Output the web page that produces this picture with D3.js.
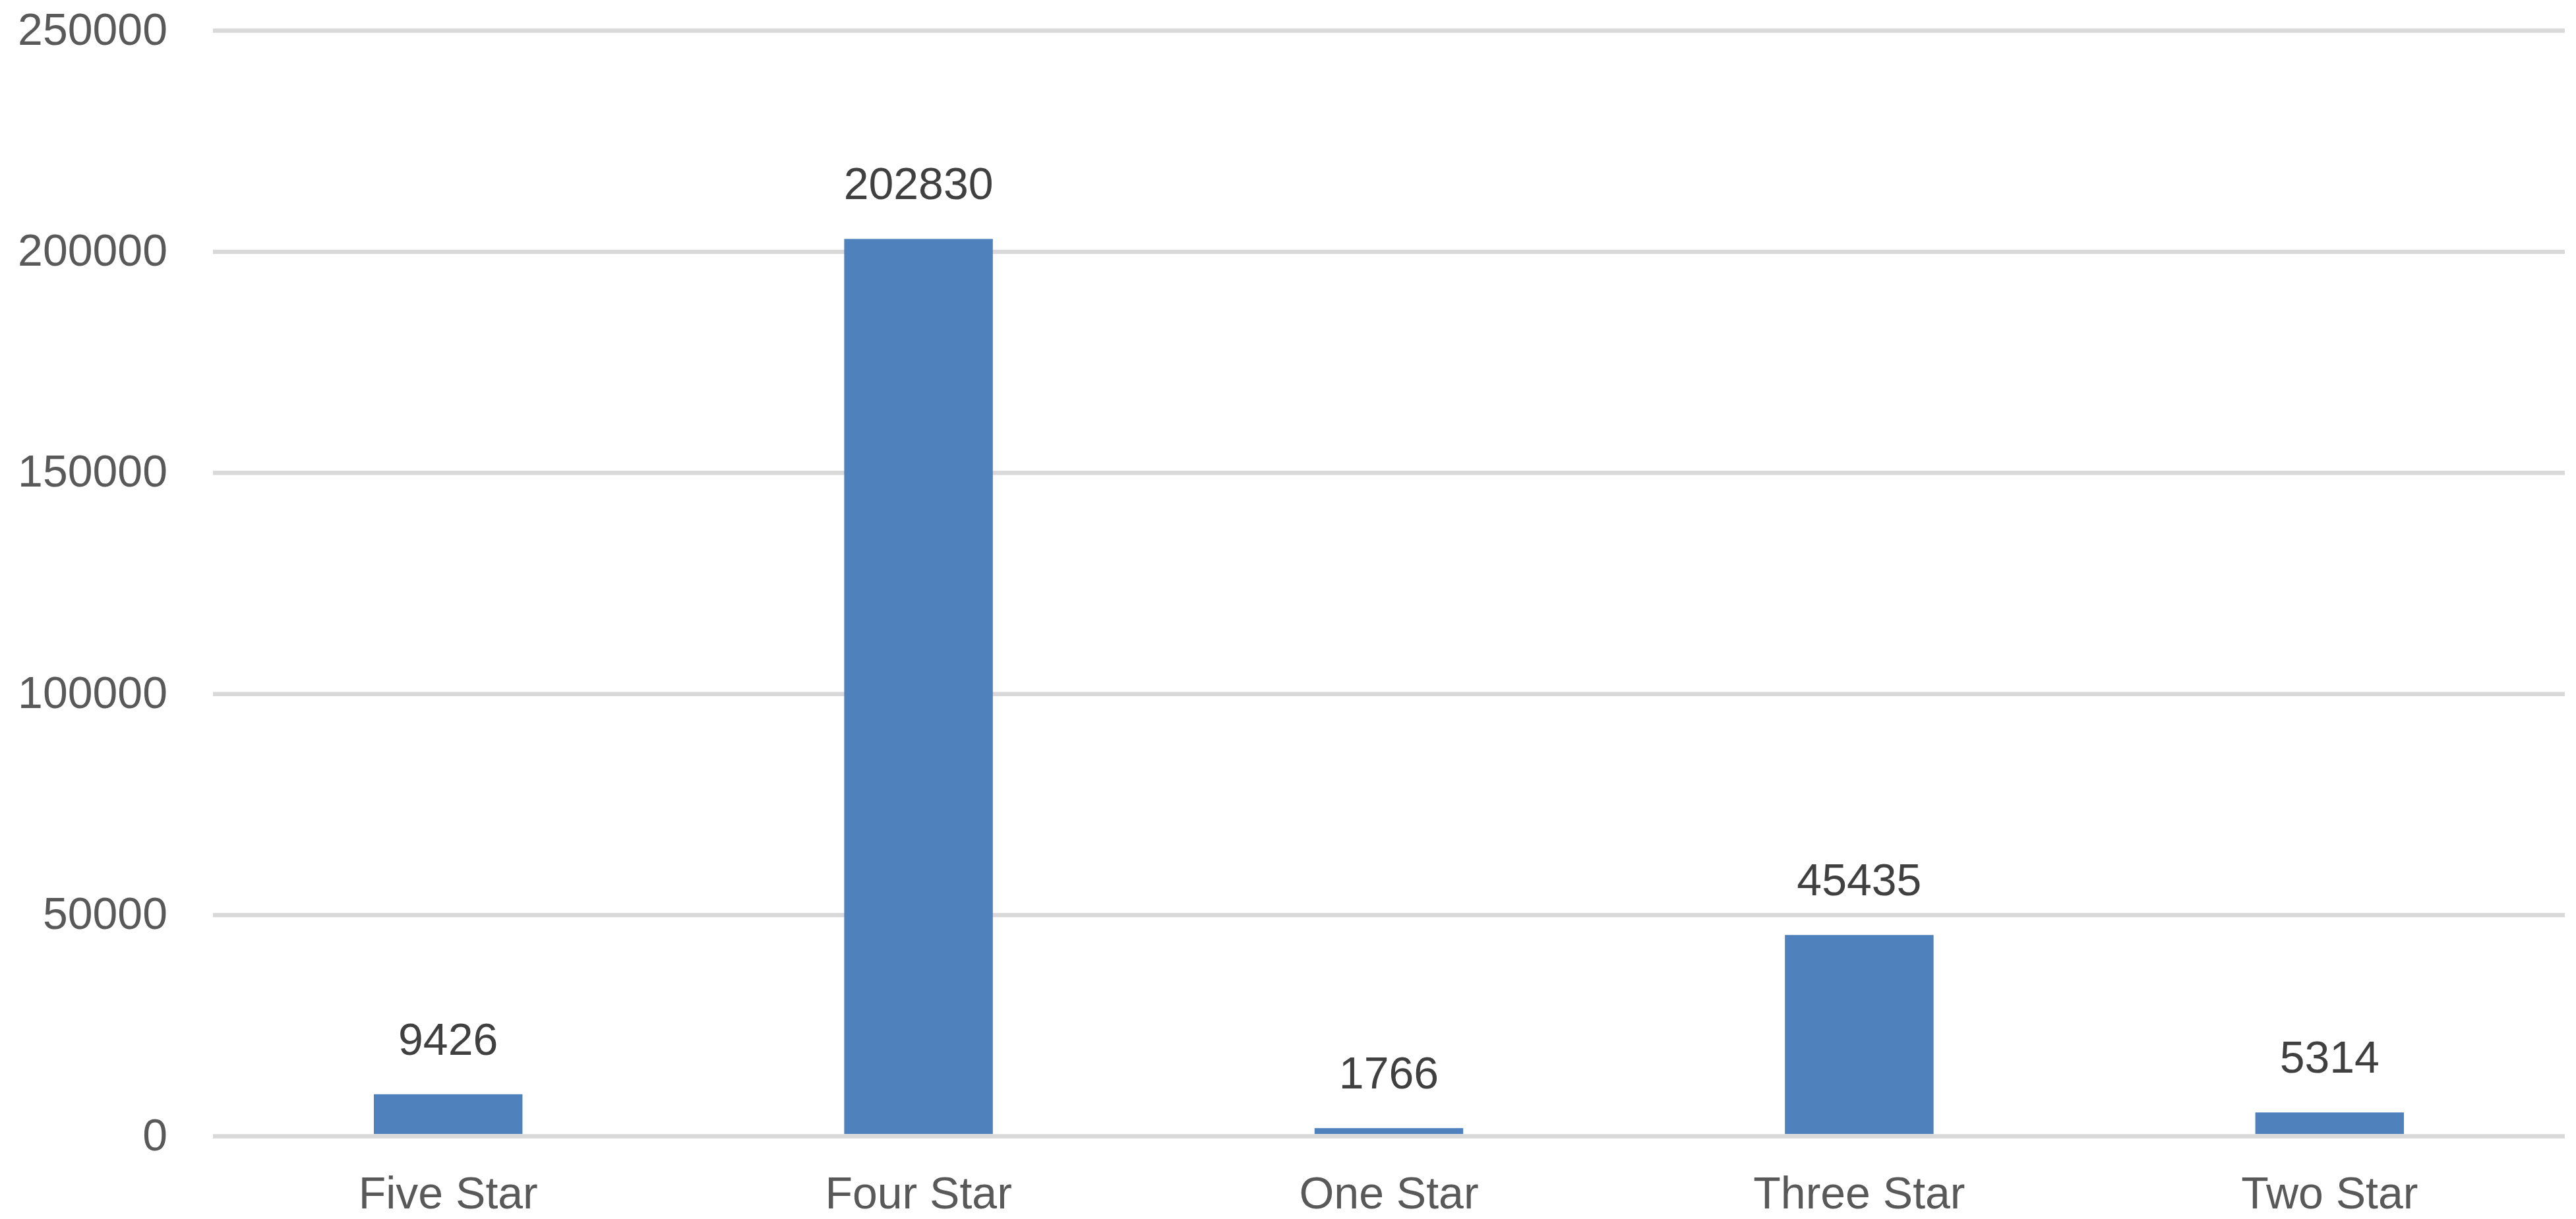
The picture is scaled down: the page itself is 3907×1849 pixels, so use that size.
<!DOCTYPE html>
<html>
<head>
<meta charset="utf-8">
<script src="https://cdn.jsdelivr.net/npm/d3@7/dist/d3.min.js"></script>
<style>
  html, body { margin: 0; padding: 0; background: #ffffff; }
  svg { display: block; }
  text { font-family: "Liberation Sans", Arial, sans-serif; }
</style>
</head>
<body>
<script>
const categories = ["Five Star", "Four Star", "One Star", "Three Star", "Two Star"];
const counts = [9426, 202830, 1766, 45435, 5314];
const yTicks = [0, 50000, 100000, 150000, 200000, 250000];

const W = 3907, H = 1849;
const plotLeft = 323, plotRight = 3890, plotTop = 46, plotBottom = 1723;

const svg = d3.select("body").append("svg")
  .attr("width", W).attr("height", H)
  .attr("viewBox", `0 0 ${W} ${H}`);

svg.append("rect").attr("width", W).attr("height", H).attr("fill", "#ffffff");

const x = d3.scaleBand()
  .domain(categories)
  .range([plotLeft, plotRight])
  .paddingInner(0.684)
  .paddingOuter(0.342);

const y = d3.scaleLinear()
  .domain([0, 250000])
  .range([plotBottom, plotTop]);

// Y axis with gridlines
const yAxis = svg.append("g")
  .attr("transform", `translate(${plotLeft},0)`)
  .call(d3.axisLeft(y).tickValues(yTicks).tickFormat(d3.format("d"))
    .tickSize(-(plotRight - plotLeft)).tickPadding(69));
yAxis.select(".domain").remove();
yAxis.selectAll(".tick line")
  .attr("stroke", "#d9d9d9")
  .attr("stroke-width", 6.5);
yAxis.selectAll(".tick text")
  .attr("fill", "#595959")
  .attr("font-size", 68)
  .attr("dy", null)
  .attr("y", 21)
  .style("font-family", '"Liberation Sans", Arial, sans-serif');

// Bars
svg.append("g").selectAll("rect")
  .data(categories)
  .join("rect")
  .attr("x", d => x(d))
  .attr("width", x.bandwidth())
  .attr("y", (d, i) => y(counts[i]))
  .attr("height", (d, i) => y(0) - y(counts[i]) - 3)
  .attr("fill", "#4f81bd");

// Value labels
svg.append("g").selectAll("text")
  .data(categories)
  .join("text")
  .attr("x", d => x(d) + x.bandwidth() / 2)
  .attr("y", (d, i) => y(counts[i]) - 60)
  .attr("text-anchor", "middle")
  .attr("font-size", 68)
  .attr("fill", "#404040")
  .text((d, i) => counts[i]);

// X axis labels
const xAxis = svg.append("g")
  .attr("transform", `translate(0,${plotBottom})`)
  .call(d3.axisBottom(x).tickSize(0).tickPadding(0));
xAxis.select(".domain").remove();
xAxis.selectAll(".tick text")
  .attr("fill", "#595959")
  .attr("font-size", 68)
  .attr("dy", null)
  .attr("y", 110)
  .style("font-family", '"Liberation Sans", Arial, sans-serif');
</script>
</body>
</html>
